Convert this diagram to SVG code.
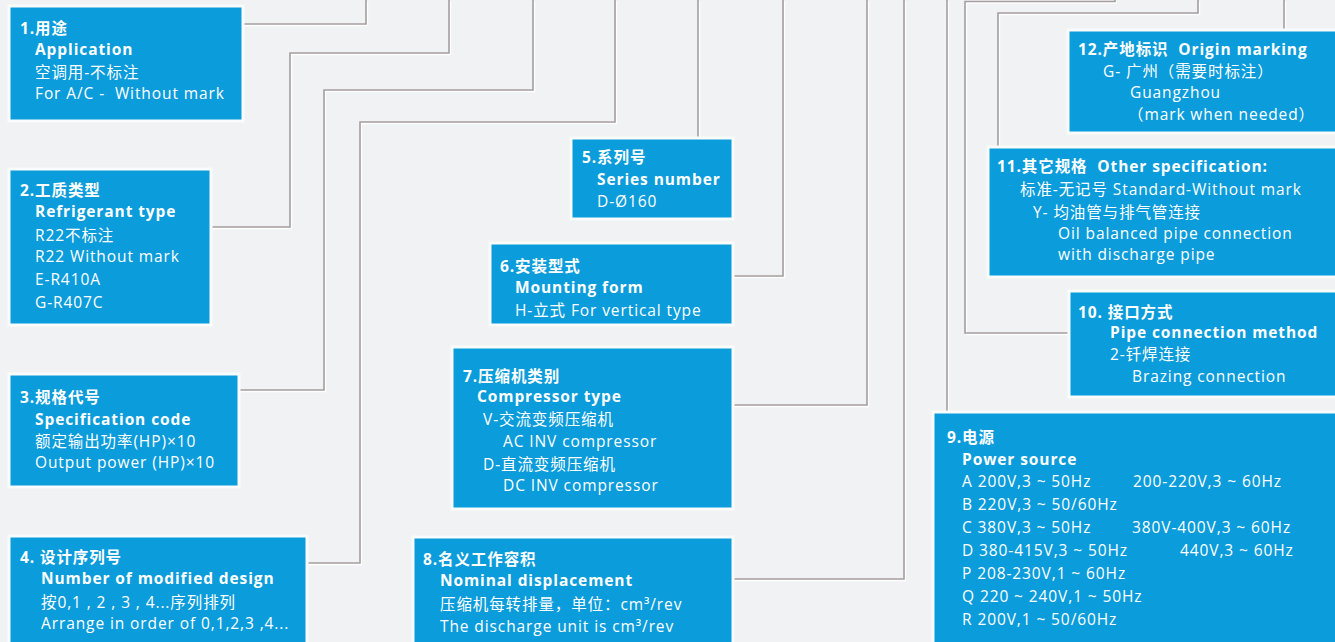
<svg xmlns="http://www.w3.org/2000/svg" width="1335" height="642" viewBox="0 0 1335 642">
<style>
.bg{fill:#f0f2f3}
.box{fill:#0b9cdb;stroke:#f9fbfc;stroke-width:3}
.ln{fill:none;stroke:#a69f9f;stroke-width:1.6}
.hl{fill:none;stroke:#ffffff;stroke-width:1.4}
text{font-family:"Open Sans","Noto Sans","Noto Sans CJK SC",sans-serif;font-size:15.5px;letter-spacing:0.9px;fill:#ffffff}
.b{font-weight:bold}
</style>
<rect class="bg" x="0" y="0" width="1335" height="642"/>
<g id="connectors">
<g transform="translate(1.5,1.5)">
<path class="hl" d="M243,24 H366 V0"/>
<path class="hl" d="M211,227 H290 V53 H449 V0"/>
<path class="hl" d="M239,390 H324 V90 H533 V0"/>
<path class="hl" d="M307,563 H360 V122 H615 V0"/>
<path class="hl" d="M698,138 V0"/>
<path class="hl" d="M733,276 H783 V0"/>
<path class="hl" d="M733,405 H867 V0"/>
<path class="hl" d="M733,579 H904 V0"/>
<path class="hl" d="M947,412 V0"/>
<path class="hl" d="M1069,333 H965 V1.5 H1115 V0"/>
<path class="hl" d="M998,147 V13 H1198 V0"/>
<path class="hl" d="M1284,30 V0"/>
</g>
<path class="ln" d="M243,24 H366 V0"/>
<path class="ln" d="M211,227 H290 V53 H449 V0"/>
<path class="ln" d="M239,390 H324 V90 H533 V0"/>
<path class="ln" d="M307,563 H360 V122 H615 V0"/>
<path class="ln" d="M698,138 V0"/>
<path class="ln" d="M733,276 H783 V0"/>
<path class="ln" d="M733,405 H867 V0"/>
<path class="ln" d="M733,579 H904 V0"/>
<path class="ln" d="M947,412 V0"/>
<path class="ln" d="M1069,333 H965 V1.5 H1115 V0"/>
<path class="ln" d="M998,147 V13 H1198 V0"/>
<path class="ln" d="M1284,30 V0"/>
</g>
<g id="n1">
<rect class="box" x="9" y="6" width="234" height="115"/>
<text class="b" x="20" y="34">1.用途</text>
<text class="b" x="35" y="55">Application</text>
<text x="35" y="78">空调用-不标注</text>
<text x="35" y="99" xml:space="preserve">For A/C -  Without mark</text>
</g>
<g id="n2">
<rect class="box" x="9" y="169" width="202" height="156"/>
<text class="b" x="20" y="196">2.工质类型</text>
<text class="b" x="35" y="217">Refrigerant type</text>
<text x="35" y="241">R22不标注</text>
<text x="35" y="262">R22 Without mark</text>
<text x="35" y="285">E-R410A</text>
<text x="35" y="308">G-R407C</text>
</g>
<g id="n3">
<rect class="box" x="9" y="374" width="230" height="113"/>
<text class="b" x="20" y="403">3.规格代号</text>
<text class="b" x="35" y="425">Specification code</text>
<text x="35" y="447">额定输出功率(HP)×10</text>
<text x="35" y="468">Output power (HP)×10</text>
</g>
<g id="n4">
<rect class="box" x="9" y="536" width="298" height="110"/>
<text class="b" x="20" y="563">4. 设计序列号</text>
<text class="b" x="41" y="584">Number of modified design</text>
<text x="41" y="608">按0,1 , 2 , 3 , 4...序列排列</text>
<text x="41" y="629">Arrange in order of 0,1,2,3 ,4...</text>
</g>
<g id="n5">
<rect class="box" x="571" y="138" width="162" height="81"/>
<text class="b" x="582" y="163">5.系列号</text>
<text class="b" x="597" y="185">Series number</text>
<text x="597" y="207">D-Ø160</text>
</g>
<g id="n6">
<rect class="box" x="490" y="243" width="243" height="82"/>
<text class="b" x="500" y="272">6.安装型式</text>
<text class="b" x="515" y="293">Mounting form</text>
<text x="515" y="316">H-立式 For vertical type</text>
</g>
<g id="n7">
<rect class="box" x="452" y="347" width="281" height="162"/>
<text class="b" x="463" y="382">7.压缩机类别</text>
<text class="b" x="477" y="402">Compressor type</text>
<text x="483" y="425">V-交流变频压缩机</text>
<text x="503" y="447">AC INV compressor</text>
<text x="483" y="470">D-直流变频压缩机</text>
<text x="503" y="491">DC INV compressor</text>
</g>
<g id="n8">
<rect class="box" x="413" y="537" width="320" height="110"/>
<text class="b" x="423" y="565">8.名义工作容积</text>
<text class="b" x="440" y="586">Nominal displacement</text>
<text x="440" y="610">压缩机每转排量，单位：cm³/rev</text>
<text x="440" y="632">The discharge unit is cm³/rev</text>
</g>
<g id="n9">
<rect class="box" x="933" y="412" width="405" height="235"/>
<text class="b" x="947" y="443">9.电源</text>
<text class="b" x="962" y="465">Power source</text>
<text x="962" y="487">A 200V,3 ~ 50Hz</text>
<text x="1133" y="487">200-220V,3 ~ 60Hz</text>
<text x="962" y="510">B 220V,3 ~ 50/60Hz</text>
<text x="962" y="533">C 380V,3 ~ 50Hz</text>
<text x="1132" y="533">380V-400V,3 ~ 60Hz</text>
<text x="962" y="556">D 380-415V,3 ~ 50Hz</text>
<text x="1180" y="556">440V,3 ~ 60Hz</text>
<text x="962" y="579">P 208-230V,1 ~ 60Hz</text>
<text x="962" y="602">Q 220 ~ 240V,1 ~ 50Hz</text>
<text x="962" y="625">R 200V,1 ~ 50/60Hz</text>
</g>
<g id="n10">
<rect class="box" x="1069" y="291" width="270" height="106"/>
<text class="b" x="1078" y="318">10. 接口方式</text>
<text class="b" x="1110" y="338">Pipe connection method</text>
<text x="1110" y="360">2-钎焊连接</text>
<text x="1132" y="382">Brazing connection</text>
</g>
<g id="n11">
<rect class="box" x="988" y="147" width="351" height="130"/>
<text class="b" x="997" y="172" xml:space="preserve">11.其它规格  Other specification:</text>
<text x="1020" y="195">标准-无记号 Standard-Without mark</text>
<text x="1033" y="218">Y- 均油管与排气管连接</text>
<text x="1058" y="239">Oil balanced pipe connection</text>
<text x="1058" y="260">with discharge pipe</text>
</g>
<g id="n12">
<rect class="box" x="1068" y="30" width="271" height="103"/>
<text class="b" x="1078" y="55" xml:space="preserve">12.产地标识  Origin marking</text>
<text x="1103" y="77">G- 广州（需要时标注）</text>
<text x="1130" y="98">Guangzhou</text>
<text x="1128" y="120">（mark when needed）</text>
</g>
</svg>
